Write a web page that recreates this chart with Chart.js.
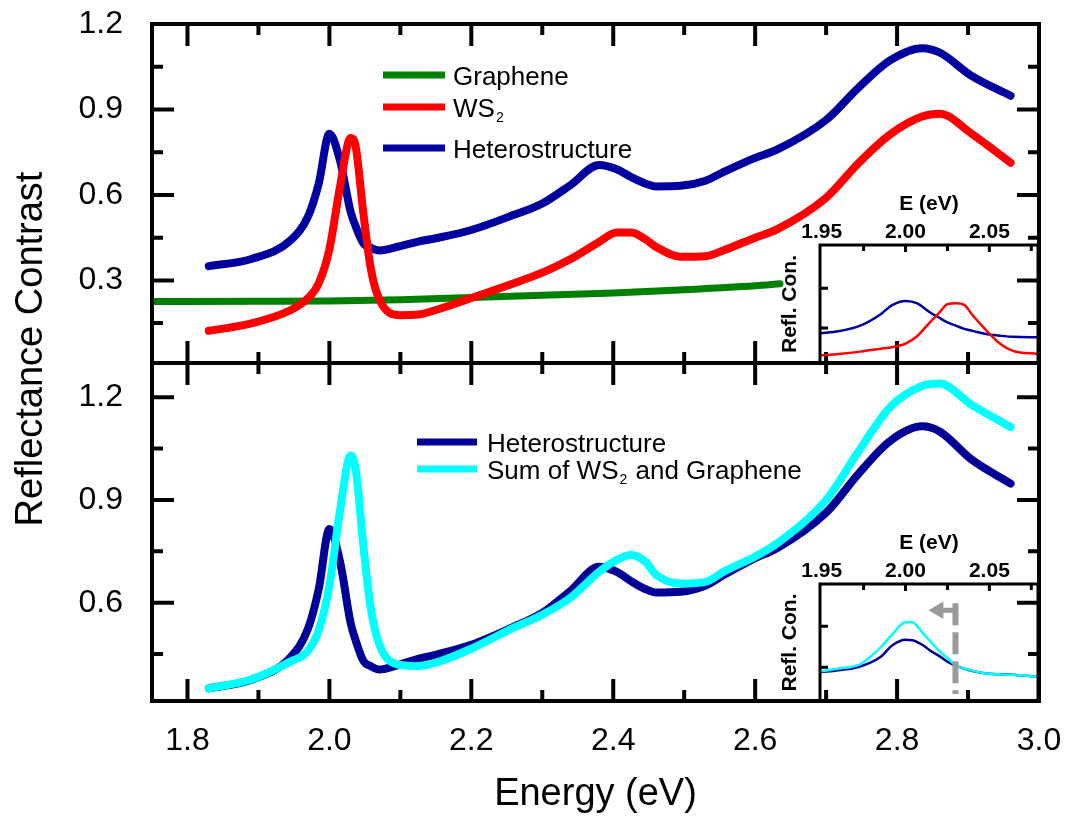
<!DOCTYPE html>
<html>
<head>
<meta charset="utf-8">
<script src="https://cdn.jsdelivr.net/npm/chart.js@4.4.1/dist/chart.umd.min.js"></script>
<style>
  html, body { margin: 0; padding: 0; background: #fff; }
  #wrap { position: relative; width: 1069px; height: 817px; }
  #wrap canvas { position: absolute; left: 0; top: 0; }
</style>
</head>
<body>
<div id="wrap">
  <canvas id="topPanel" width="1069" height="817"></canvas>
  <canvas id="bottomPanel" width="1069" height="817"></canvas>
  <canvas id="insetTop" width="1069" height="817"></canvas>
  <canvas id="insetBottom" width="1069" height="817"></canvas>
</div>
<script>
const FONT = '"Liberation Sans", Arial, Helvetica, sans-serif';

// main spectra, energy in eV
const energy = [1.83, 1.89, 1.945, 1.97, 1.985, 2.0, 2.015, 2.03, 2.037, 2.048, 2.058, 2.07,
  2.1, 2.125, 2.15, 2.2, 2.26, 2.3, 2.34, 2.38, 2.405, 2.425, 2.445, 2.46, 2.495, 2.53,
  2.555, 2.6, 2.63, 2.7, 2.745, 2.79, 2.835, 2.86, 2.905, 2.96];
const heteroValues = [0.35, 0.375, 0.44, 0.525, 0.64, 0.815, 0.72, 0.54, 0.49, 0.43, 0.415, 0.405,
  0.42, 0.436, 0.448, 0.477, 0.53, 0.57, 0.635, 0.705, 0.69, 0.663, 0.64, 0.63, 0.632, 0.65,
  0.68, 0.73, 0.758, 0.863, 0.975, 1.072, 1.115, 1.1, 1.018, 0.948];
const ws2Values = [0.123, 0.149, 0.195, 0.238, 0.29, 0.41, 0.63, 0.80, 0.77, 0.533, 0.346, 0.235,
  0.178, 0.18, 0.196, 0.238, 0.29, 0.327, 0.375, 0.435, 0.468, 0.468, 0.445, 0.418, 0.383, 0.385,
  0.405, 0.45, 0.478, 0.59, 0.71, 0.812, 0.875, 0.885, 0.815, 0.713];
const sumValues = [0.35, 0.376, 0.428, 0.46, 0.52, 0.65, 0.87, 1.03, 0.99, 0.763, 0.588, 0.48,
  0.418, 0.415, 0.425, 0.466, 0.527, 0.565, 0.615, 0.69, 0.725, 0.739, 0.72, 0.682, 0.656, 0.661,
  0.69, 0.735, 0.772, 0.9, 1.04, 1.171, 1.233, 1.24, 1.178, 1.113];
const grapheneEnergy = [1.75, 1.9, 2.0, 2.1, 2.2, 2.3, 2.4, 2.5, 2.6, 2.635];
const grapheneValues = [0.226, 0.227, 0.228, 0.232, 0.24, 0.248, 0.256, 0.267, 0.281, 0.288];

// insets (arbitrary units)
const insetTopEnergy = [1.949, 1.96, 1.973, 1.985, 1.992, 2.0, 2.007, 2.014, 2.02, 2.025, 2.03,
  2.035, 2.04, 2.048, 2.056, 2.064, 2.079];
const insetTopHetero = [0.87, 0.92, 1.06, 1.34, 1.575, 1.68, 1.62, 1.41, 1.26, 1.14, 1.06,
  0.98, 0.93, 0.85, 0.81, 0.78, 0.77];
const insetTopWs2 = [0.31, 0.35, 0.41, 0.48, 0.52, 0.61, 0.8, 1.12, 1.38, 1.6, 1.62,
  1.58, 1.32, 0.95, 0.62, 0.43, 0.35];
const insetBottomEnergy = [1.949, 1.96, 1.973, 1.985, 1.992, 2.0, 2.004, 2.01, 2.015, 2.02,
  2.025, 2.03, 2.037, 2.048, 2.064, 2.079];
const insetBottomSum = [0.9, 0.97, 1.08, 1.48, 1.8, 2.1, 2.1, 1.85, 1.62, 1.4,
  1.22, 1.05, 0.95, 0.85, 0.82, 0.77];
const insetBottomHetero = [0.88, 0.93, 1.02, 1.25, 1.53, 1.67, 1.66, 1.55, 1.4, 1.28,
  1.14, 1.04, 0.94, 0.85, 0.82, 0.77];
const shiftLineE = [2.0298, 2.0298];
const shiftLineY = [2.56, 0.35];
const arrowE = [2.0295, 2.0196];
const arrowY = [2.39, 2.39];

// ticks
const energyTicks = [1.8, 2.0, 2.2, 2.4, 2.6, 2.8, 3.0];
const energyMinor = [1.9, 2.1, 2.3, 2.5, 2.7, 2.9];
const topTicks = [0.3, 0.6, 0.9, 1.2];
const topMinor = [0.15, 0.45, 0.75, 1.05];
const bottomTicks = [0.6, 0.9, 1.2];
const bottomMinor = [0.45, 0.75, 1.05];
const insetTicks = [1.95, 2.00, 2.05];
const insetMinor = [1.975, 2.025, 2.075];
const insetYTicks = [1, 2];

function pts(xs, ys) {
  return xs.map((x, i) => ({x: x, y: ys[i]}));
}

function curve(label, xs, ys, color, width, order) {
  return {
    label: label, data: pts(xs, ys), borderColor: color, backgroundColor: color,
    borderWidth: width, pointRadius: 0, showLine: true, order: order,
    cubicInterpolationMode: 'monotone', borderJoinStyle: 'round', borderCapStyle: 'round'
  };
}

// scale sizes are fixed by hand, so drop the label overhang chart.js asks for
function fixSize(s, w, h) {
  if (w !== undefined) s.width = w;
  if (h !== undefined) s.height = h;
  s.paddingTop = s.paddingBottom = s.paddingLeft = s.paddingRight = 0;
}

function drawRich(ctx, text, x, y, size) {
  const parts = text.split('_');
  ctx.font = size + 'px ' + FONT;
  ctx.fillText(parts[0], x, y);
  let cx = x + ctx.measureText(parts[0]).width;
  for (let i = 1; i < parts.length; i++) {
    const sub = parts[i][0], rest = parts[i].slice(1);
    ctx.font = Math.round(size * 0.55) + 'px ' + FONT;
    ctx.fillText(sub, cx + 1, y + size * 0.22);
    cx += ctx.measureText(sub).width + 2;
    ctx.font = size + 'px ' + FONT;
    ctx.fillText(rest, cx, y);
    cx += ctx.measureText(rest).width;
  }
}

// box with inward ticks on the chosen sides
const framePlugin = {
  id: 'frame',
  afterDatasetsDraw(chart, args, o) {
    const ctx = chart.ctx, a = chart.chartArea;
    const xs = chart.scales.x, ys = chart.scales.y;
    ctx.save();
    ctx.strokeStyle = '#000';
    ctx.lineWidth = o.width;
    ctx.strokeRect(a.left, a.top, a.right - a.left, a.bottom - a.top);
    ctx.beginPath();
    const xMark = (list, len) => list.forEach(v => {
      const p = xs.getPixelForValue(v);
      if (p < a.left + 2 || p > a.right - 2) return;
      if (o.sides.includes('t')) { ctx.moveTo(p, a.top); ctx.lineTo(p, a.top + len); }
      if (o.sides.includes('b')) { ctx.moveTo(p, a.bottom); ctx.lineTo(p, a.bottom - len); }
    });
    const yMark = (list, len) => list.forEach(v => {
      const p = ys.getPixelForValue(v);
      if (p < a.top + 2 || p > a.bottom - 2) return;
      if (o.sides.includes('l')) { ctx.moveTo(a.left, p); ctx.lineTo(a.left + len, p); }
      if (o.sides.includes('r')) { ctx.moveTo(a.right, p); ctx.lineTo(a.right - len, p); }
    });
    xMark(o.xMajor, o.major);
    xMark(o.xMinor, o.minor);
    yMark(o.yMajor, o.yLen || o.major);
    yMark(o.yMinor, o.minor);
    ctx.stroke();
    ctx.restore();
  }
};

const keyPlugin = {
  id: 'key',
  afterDraw(chart, args, o) {
    if (!o.items) return;
    const ctx = chart.ctx;
    ctx.save();
    o.items.forEach((idx, i) => {
      const ds = chart.data.datasets[idx];
      const y = o.rows[i];
      ctx.strokeStyle = ds.borderColor;
      ctx.lineWidth = o.lineWidth;
      ctx.beginPath();
      ctx.moveTo(o.lineX[0], y);
      ctx.lineTo(o.lineX[1], y);
      ctx.stroke();
      ctx.fillStyle = '#000';
      ctx.textBaseline = 'alphabetic';
      ctx.textAlign = 'left';
      drawRich(ctx, ds.label, o.textX, y + o.size * 0.37, o.size);
    });
    ctx.restore();
  }
};

const sideTitlePlugin = {
  id: 'sideTitle',
  afterDraw(chart, args, o) {
    if (!o.text) return;
    const ctx = chart.ctx;
    ctx.save();
    ctx.translate(o.x, o.y);
    ctx.rotate(-Math.PI / 2);
    ctx.font = o.size + 'px ' + FONT;
    ctx.fillStyle = '#000';
    ctx.textAlign = 'center';
    ctx.textBaseline = 'alphabetic';
    ctx.fillText(o.text, 0, 0);
    ctx.restore();
  }
};

Chart.register(framePlugin, keyPlugin, sideTitlePlugin);

function valueAxis(min, max, ticks) {
  return {
    type: 'linear', min: min, max: max,
    afterBuildTicks: s => { s.ticks = ticks.map(v => ({value: v})); },
    afterFit: s => fixSize(s, 100),
    grid: {display: false, drawTicks: false},
    border: {display: false},
    ticks: {padding: 29, color: '#000', font: {family: FONT, size: 32}, callback: v => v.toFixed(1)}
  };
}

function baseOptions(padding, scales, plugins) {
  return {
    responsive: false, animation: false, events: [],
    layout: {padding: padding, autoPadding: false},
    scales: scales,
    plugins: Object.assign({legend: {display: false}, tooltip: {enabled: false}}, plugins)
  };
}

// top panel: graphene, WS2, heterostructure
new Chart(document.getElementById('topPanel'), {
  type: 'scatter',
  data: {
    datasets: [
      curve('Graphene', grapheneEnergy, grapheneValues, '#008000', 7, 2),
      curve('WS_2', energy, ws2Values, '#ff0000', 8, 0),
      curve('Heterostructure', energy, heteroValues, '#0000a0', 8, 1)
    ]
  },
  options: baseOptions({left: 52, top: 24, right: 30, bottom: 454}, {
    x: {type: 'linear', min: 1.75, max: 3.0, display: false, afterFit: s => fixSize(s)},
    y: valueAxis(0.01, 1.2, topTicks)
  }, {
    frame: {sides: 'tblr', width: 4, major: 22, minor: 11,
      xMajor: energyTicks, xMinor: energyMinor, yMajor: topTicks, yMinor: topMinor},
    key: {items: [0, 1, 2], lineX: [383, 445], textX: 453, rows: [75, 107, 148], size: 26, lineWidth: 7}
  })
});

// bottom panel: heterostructure vs sum
new Chart(document.getElementById('bottomPanel'), {
  type: 'scatter',
  data: {
    datasets: [
      curve('Heterostructure', energy, heteroValues, '#000096', 8, 1),
      curve('Sum of WS_2 and Graphene', energy, sumValues, '#00ffff', 8, 0)
    ]
  },
  options: baseOptions({left: 52, top: 363, right: 30, bottom: 0}, {
    x: {
      type: 'linear', min: 1.75, max: 3.0,
      afterBuildTicks: s => { s.ticks = energyTicks.map(v => ({value: v})); },
      afterFit: s => fixSize(s, undefined, 116),
      grid: {display: false, drawTicks: false},
      border: {display: false},
      ticks: {padding: 21, color: '#000', maxRotation: 0, autoSkip: false,
        font: {family: FONT, size: 32}, callback: v => v.toFixed(1)},
      title: {display: true, text: 'Energy (eV)', color: '#000',
        font: {family: FONT, size: 38}, padding: 0}
    },
    y: valueAxis(0.313, 1.3, bottomTicks)
  }, {
    frame: {sides: 'tblr', width: 4, major: 22, minor: 11,
      xMajor: energyTicks, xMinor: energyMinor, yMajor: bottomTicks, yMinor: bottomMinor},
    key: {items: [0, 1], lineX: [417, 477], textX: 487, rows: [442, 469], size: 26, lineWidth: 7},
    sideTitle: {text: 'Reflectance Contrast', x: 42, y: 349, size: 38}
  })
});

function insetScales(yMin, yMax) {
  const bold = {family: FONT, size: 21, weight: 'bold'};
  return {
    x: {
      type: 'linear', position: 'top', min: 1.949, max: 2.079,
      afterBuildTicks: s => { s.ticks = insetTicks.map(v => ({value: v})); },
      afterFit: s => fixSize(s, undefined, 60),
      grid: {display: false, drawTicks: false},
      border: {display: false},
      ticks: {padding: 0, color: '#000', maxRotation: 0, autoSkip: false, font: bold,
        callback: v => v.toFixed(2)},
      title: {display: true, text: 'E (eV)', color: '#000', font: bold, padding: {top: 7, bottom: 0}}
    },
    y: {
      type: 'linear', min: yMin, max: yMax,
      afterBuildTicks: s => { s.ticks = insetYTicks.map(v => ({value: v})); },
      afterFit: s => fixSize(s, 42),
      grid: {display: false, drawTicks: false},
      border: {display: false},
      ticks: {display: false},
      title: {display: true, text: 'Refl. Con.', color: '#000', font: bold, padding: 0}
    }
  };
}

const insetFrame = {sides: 'tl', width: 3, major: 7, minor: 6, yLen: 8,
  xMajor: insetTicks, xMinor: insetMinor, yMajor: insetYTicks, yMinor: []};

new Chart(document.getElementById('insetTop'), {
  type: 'scatter',
  data: {
    datasets: [
      curve('WS_2', insetTopEnergy, insetTopWs2, '#ff0000', 2.5, 0),
      curve('Heterostructure', insetTopEnergy, insetTopHetero, '#0000a0', 2.5, 1)
    ]
  },
  options: baseOptions({left: 778, top: 185, right: 31, bottom: 454},
    insetScales(0.125, 3.08), {frame: insetFrame})
});

const gray = '#9a9a9a';
const shiftLine = curve('shift', shiftLineE, shiftLineY, gray, 6, 0);
shiftLine.borderDash = [22, 7];
shiftLine.borderCapStyle = 'butt';
shiftLine.cubicInterpolationMode = 'default';
const arrow = curve('arrow', arrowE, arrowY, gray, 5, 0);
arrow.borderCapStyle = 'butt';
arrow.pointRadius = [0, 10];
arrow.pointStyle = 'triangle';
arrow.rotation = -90;
arrow.pointBorderWidth = 0;

new Chart(document.getElementById('insetBottom'), {
  type: 'scatter',
  data: {
    datasets: [
      shiftLine,
      arrow,
      curve('Sum of WS_2 and Graphene', insetBottomEnergy, insetBottomSum, '#00ffff', 2.5, 1),
      curve('Heterostructure', insetBottomEnergy, insetBottomHetero, '#000096', 2.5, 2)
    ]
  },
  options: baseOptions({left: 778, top: 524, right: 31, bottom: 116},
    insetScales(0.18, 3.03), {frame: insetFrame})
});
</script>
</body>
</html>
